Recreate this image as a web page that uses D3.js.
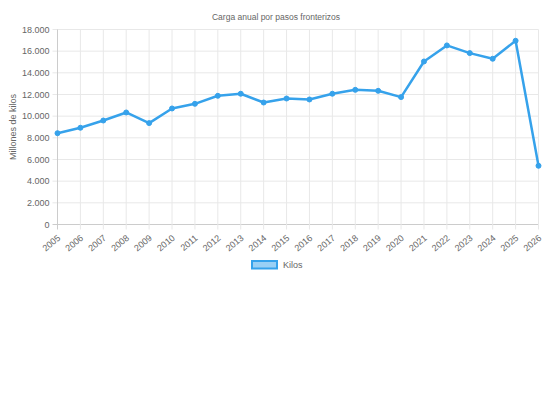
<!DOCTYPE html>
<html><head><meta charset="utf-8">
<script src="https://cdn.jsdelivr.net/npm/d3@7"></script>
<style>body{margin:0;background:#fff}svg{display:block}text{font-family:"Liberation Sans",Arial,sans-serif;fill:#666}</style>
</head><body><svg id="c" width="552" height="414"></svg>
<script>
const years = ["2005","2006","2007","2008","2009","2010","2011","2012","2013","2014","2015","2016","2017","2018","2019","2020","2021","2022","2023","2024","2025","2026"];
const kilos = [8430,8930,9600,10340,9360,10710,11140,11880,12070,11260,11630,11540,12070,12430,12340,11760,15050,16530,15820,15300,16960,5420];
const yTicks = [0,2000,4000,6000,8000,10000,12000,14000,16000,18000];
const title = "Carga anual por pasos fronterizos";
const yTitle = "Millones de kilos";
const seriesName = "Kilos";

const svg = d3.select("#c");
const m = {l:57.5, r:538.5, t:29.5, b:224.5};
const x = d3.scalePoint().domain(years).range([m.l, m.r]);
const y = d3.scaleLinear().domain([0,18000]).range([m.b, m.t]);
const fmt = d => d3.format(",")(d).replace(/,/g, ".");
const blue = "#36A2EB";

// grid
svg.append("g").selectAll("line").data(yTicks).join("line")
  .attr("x1", m.l-5).attr("x2", m.r).attr("y1", d=>y(d)).attr("y2", d=>y(d))
  .attr("stroke", d=> d===0 ? "#ccc" : "#e8e8e8").attr("stroke-width",1);
svg.append("g").selectAll("line").data(years).join("line")
  .attr("x1", d=>x(d)).attr("x2", d=>x(d)).attr("y1", m.t).attr("y2", m.b+5)
  .attr("stroke", (d,i)=> i===0 ? "#ccc" : "#e8e8e8").attr("stroke-width",1);

// y labels
svg.append("g").selectAll("text").data(yTicks).join("text")
  .attr("x", m.l-8).attr("y", d=>y(d)).attr("dy","0.35em")
  .attr("text-anchor","end").attr("font-size","9px").text(fmt);

// x labels
svg.append("g").selectAll("text").data(years).join("text")
  .attr("transform", d=>`translate(${x(d)+1.5},${m.b+12}) rotate(-40)`)
  .attr("text-anchor","end").attr("dy","0.35em").attr("font-size","9px").text(d=>d);

// titles
svg.append("text").attr("x",276).attr("y",20).attr("text-anchor","middle").attr("font-size","8.5px").text(title);
svg.append("text").attr("transform",`translate(16,${(m.t+m.b)/2}) rotate(-90)`).attr("text-anchor","middle").attr("font-size","9px").text(yTitle);

// line
const line = d3.line().x((d,i)=>x(years[i])).y(d=>y(d));
svg.append("path").datum(kilos).attr("d", line).attr("fill","none").attr("stroke",blue).attr("stroke-width",2.5).attr("stroke-linejoin","round");
svg.append("g").selectAll("circle").data(kilos).join("circle")
  .attr("cx",(d,i)=>x(years[i])).attr("cy",d=>y(d)).attr("r",2.5)
  .attr("fill",blue).attr("stroke",blue).attr("stroke-width",1);

// legend
svg.append("rect").attr("x",252).attr("y",261).attr("width",25).attr("height",7.5)
  .attr("fill","rgba(54,162,235,0.5)").attr("stroke",blue).attr("stroke-width",2);
svg.append("text").attr("x",283).attr("y",265).attr("dy","0.35em").attr("font-size","9px").text(seriesName);
</script></body></html>
